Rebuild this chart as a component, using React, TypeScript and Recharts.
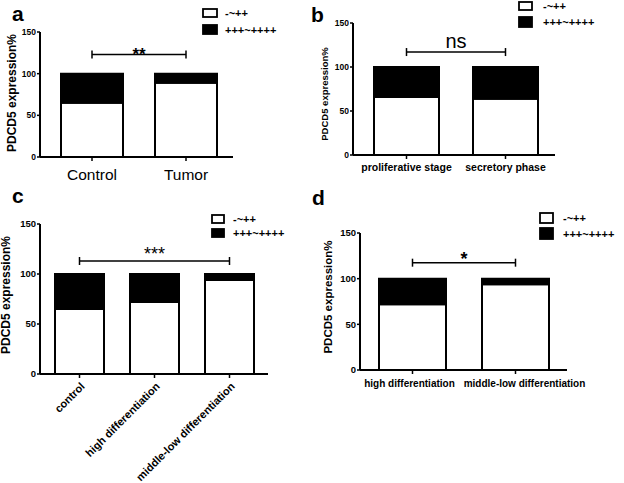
import React from 'react';
import { BarChart, Bar, XAxis, YAxis, ReferenceLine } from 'recharts';

const FONT = 'Arial, "Liberation Sans", Helvetica, sans-serif';

// Panel a
const catsA = ['Control', 'Tumor'];
const lowA = [65, 89];
const highA = [35, 11];
// Panel b
const catsB = ['proliferative stage', 'secretory phase'];
const lowB = [66, 64];
const highB = [34, 36];
// Panel c
const catsC = ['control', 'high differentiation', 'middle-low differentiation'];
const lowC = [65, 72, 94];
const highC = [35, 28, 6];
// Panel d
const catsD = ['high differentiation', 'middle-low differentiation'];
const lowD = [72, 94];
const highD = [28, 6];

const yTicks = [0, 50, 100, 150];
const legendLabels = ['-~++', '+++~++++'];
const yLabel = 'PDCD5 expression%';

const sigA = { from: 'Control', to: 'Tumor', y: 123, text: '**' };
const sigB = { from: 'proliferative stage', to: 'secretory phase', y: 117, text: 'ns' };
const sigC = { from: 'control', to: 'middle-low differentiation', y: 113, text: '***' };
const sigD = { from: 'high differentiation', to: 'middle-low differentiation', y: 117.5, text: '*' };

const build = (cats: string[], low: number[], high: number[]) =>
  cats.map((c, i) => ({ name: c, low: low[i], high: high[i] }));

const makeSigShape = (text: string, fontSize: number, dy: number, weight: string) => (p: any) => {
  const { x1, y1, x2, y2 } = p;
  return (
    <g>
      <line x1={x1} y1={y1} x2={x2} y2={y2} stroke="#000" strokeWidth={1.5} />
      <line x1={x1} y1={y1 - 4} x2={x1} y2={y1 + 4} stroke="#000" strokeWidth={1.5} />
      <line x1={x2} y1={y2 - 4} x2={x2} y2={y2 + 4} stroke="#000" strokeWidth={1.5} />
      <text x={(x1 + x2) / 2} y={y1 + dy} textAnchor="middle" fontSize={fontSize} fontWeight={weight} fontFamily={FONT} fill="#000">
        {text}
      </text>
    </g>
  );
};

const makeFlatTick = (fontSize: number, weight: string, dy: number, dxs: number[] = []) => (props: any) => {
  const { x, y, payload, index } = props;
  const dx = dxs[index] || 0;
  return (
    <text x={x + dx} y={y + dy} textAnchor="middle" fontSize={fontSize} fontWeight={weight} fontFamily={FONT} fill="#000">
      {payload.value}
    </text>
  );
};

const AngledTick = (props: any) => {
  const { x, y, payload } = props;
  return (
    <g transform={`translate(${x + 6},${y + 7}) rotate(-45)`}>
      <text x={0} y={0} textAnchor="end" fontSize={11} fontWeight="bold" fontFamily={FONT} fill="#000">
        {payload.value}
      </text>
    </g>
  );
};

type PanelProps = {
  left: number;
  top: number;
  width: number;
  height: number;
  margin: { top: number; right: number; bottom: number; left: number };
  data: any[];
  barSize: number;
  padding: { left: number; right: number };
  tick: any;
  yTickSize: number;
  sig: { from: string; to: string; y: number; text: string };
  sigFont: number;
  sigDy: number;
  sigWeight: string;
};

const Panel = (p: PanelProps) => (
  <div style={{ position: 'absolute', left: p.left, top: p.top }}>
    <BarChart width={p.width} height={p.height} data={p.data} margin={p.margin} style={{ overflow: 'visible' }}>
      <XAxis
        dataKey="name"
        height={30}
        padding={p.padding}
        axisLine={{ stroke: '#000', strokeWidth: 2 }}
        tickLine={{ stroke: '#000', strokeWidth: 1.5 }}
        tickSize={4}
        tickMargin={2}
        tick={p.tick}
        interval={0}
      />
      <YAxis
        width={30}
        domain={[0, 150]}
        ticks={yTicks}
        axisLine={{ stroke: '#000', strokeWidth: 2 }}
        tickLine={{ stroke: '#000', strokeWidth: 1.5 }}
        tickSize={3}
        tickMargin={1}
        tick={{ fill: '#000', fontSize: p.yTickSize, fontWeight: 'bold', fontFamily: FONT }}
      />
      <Bar dataKey="low" stackId="s" fill="#fff" stroke="#000" strokeWidth={2} barSize={p.barSize} isAnimationActive={false} />
      <Bar dataKey="high" stackId="s" fill="#000" stroke="#000" strokeWidth={2} barSize={p.barSize} isAnimationActive={false} />
      <ReferenceLine
        segment={[
          { x: p.sig.from, y: p.sig.y },
          { x: p.sig.to, y: p.sig.y },
        ]}
        ifOverflow="visible"
        shape={makeSigShape(p.sig.text, p.sigFont, p.sigDy, p.sigWeight)}
      />
    </BarChart>
  </div>
);

const Legend = ({ x, y1, y2, bw, bh1, bh2, tx, size }: any) => (
  <g>
    <rect x={x} y={y1} width={bw} height={bh1} fill="#fff" stroke="#000" strokeWidth={1.8} />
    <rect x={x} y={y2} width={bw} height={bh2} fill="#000" stroke="#000" strokeWidth={1.8} />
    <text x={tx} y={y1 + bh1 / 2 + 4} fill="#000" fontFamily={FONT} fontWeight="bold" fontSize={size}>
      {legendLabels[0]}
    </text>
    <text x={tx} y={y2 + bh2 / 2 + 4} fill="#000" fontFamily={FONT} fontWeight="bold" fontSize={size}>
      {legendLabels[1]}
    </text>
  </g>
);

const YLab = ({ x, y, size }: any) => (
  <text
    x={x}
    y={y}
    transform={`rotate(-90 ${x} ${y})`}
    textAnchor="middle"
    fontSize={size}
    fontWeight="bold"
    fontFamily={FONT}
    fill="#000"
  >
    {yLabel}
  </text>
);

export default function App() {
  return (
    <div style={{ position: 'absolute', left: 0, top: 0, width: 624, height: 483, background: '#fff', overflow: 'hidden' }}>
      <Panel
        left={0}
        top={0}
        width={312}
        height={200}
        margin={{ top: 32, right: 79, bottom: 13, left: 10 }}
        data={build(catsA, lowA, highA)}
        barSize={62}
        padding={{ left: 5, right: 0 }}
        tick={makeFlatTick(15.5, 'normal', 17)}
        yTickSize={8.5}
        sig={sigA}
        sigFont={17}
        sigDy={5}
        sigWeight="bold"
      />
      <Panel
        left={312}
        top={0}
        width={312}
        height={200}
        margin={{ top: 23, right: 69, bottom: 15, left: 11 }}
        data={build(catsB, lowB, highB)}
        barSize={65}
        padding={{ left: 4, right: 0 }}
        tick={makeFlatTick(10.5, 'bold', 10)}
        yTickSize={8.5}
        sig={sigB}
        sigFont={20}
        sigDy={-4}
        sigWeight="normal"
      />
      <Panel
        left={0}
        top={200}
        width={312}
        height={283}
        margin={{ top: 24, right: 44, bottom: 79, left: 10 }}
        data={build(catsC, lowC, highC)}
        barSize={49}
        padding={{ left: 2, right: 1 }}
        tick={<AngledTick />}
        yTickSize={9.5}
        sig={sigC}
        sigFont={18}
        sigDy={-1}
        sigWeight="normal"
      />
      <Panel
        left={312}
        top={200}
        width={312}
        height={283}
        margin={{ top: 33, right: 57, bottom: 83, left: 18 }}
        data={build(catsD, lowD, highD)}
        barSize={67}
        padding={{ left: 1, right: 0 }}
        tick={makeFlatTick(10, 'bold', 11, [-3, 9])}
        yTickSize={9.5}
        sig={sigD}
        sigFont={18}
        sigDy={2}
        sigWeight="bold"
      />
      <svg width={624} height={483} style={{ position: 'absolute', left: 0, top: 0, pointerEvents: 'none' }}>
        <g fontFamily={FONT} fontWeight="bold" fontSize={21} fill="#000">
          <text x={12} y={21}>a</text>
          <text x={311} y={22}>b</text>
          <text x={12} y={203}>c</text>
          <text x={312} y={205}>d</text>
        </g>
        <Legend x={203} y1={9} y2={25} bw={14} bh1={8} bh2={9} tx={225} size={11} />
        <Legend x={519} y1={2} y2={17} bw={13} bh1={8} bh2={10} tx={543} size={11} />
        <Legend x={212} y1={215} y2={229} bw={12} bh1={8} bh2={8} tx={233} size={11} />
        <Legend x={540} y1={213} y2={228} bw={13} bh1={10} bh2={11} tx={563} size={11} />
        <YLab x={15.5} y={93} size={12} />
        <YLab x={328} y={94} size={9.5} />
        <YLab x={9.5} y={295} size={12} />
        <YLab x={332} y={297} size={11.5} />
      </svg>
    </div>
  );
}
